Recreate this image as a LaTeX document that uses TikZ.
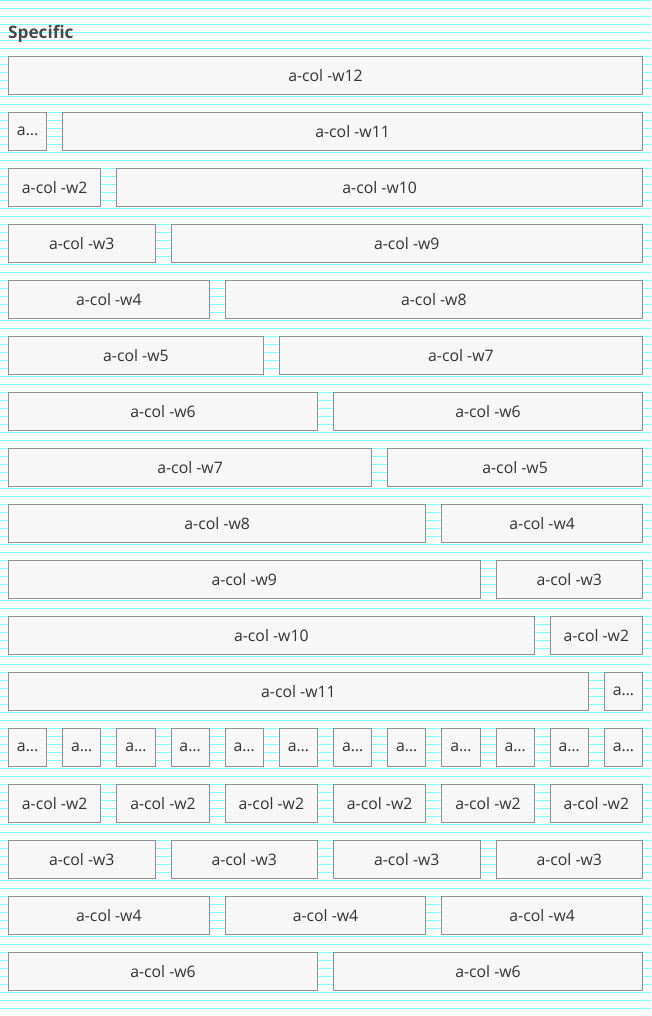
\documentclass[tikz,border=0pt]{standalone}
\usepackage{fontspec}
\setmainfont{Open Sans}
\definecolor{stripe}{HTML}{80FFFF}
\definecolor{cellfill}{HTML}{F7F7F7}
\definecolor{cellline}{HTML}{8F8F8F}
\definecolor{celltext}{HTML}{333333}
\tikzset{
  cell/.style={draw=cellline, line width=1pt, fill=cellfill, text=celltext,
    rectangle, anchor=north west, inner sep=0pt, outer sep=0pt,
    minimum height=38pt, font=\fontsize{15.8}{19}\selectfont},
}
% 12-column grid: left margin 8, width 634, gutter 16
\pgfmathsetmacro{\colw}{(634-11*16)/12}
\begin{document}
\begin{tikzpicture}[x=1pt,y=-1pt]
  \useasboundingbox (0,0) rectangle (651,1016);
  % baseline stripes
  \foreach \k in {0,...,127}{
    \draw[stripe, line width=1pt] (0,8*\k+0.5) -- (651,8*\k+0.5);
  }
  \node[anchor=base west, inner sep=0pt, text=celltext!90,
        font=\bfseries\fontsize{17.2}{21}\selectfont] (title) at (8,39) {Specific};
  % rows: list of spans per row
  \foreach \spans [count=\r from 0] in {
      {12},{1,11},{2,10},{3,9},{4,8},{5,7},{6,6},{7,5},{8,4},{9,3},{10,2},{11,1},
      {1,1,1,1,1,1,1,1,1,1,1,1},{2,2,2,2,2,2},{3,3,3,3},{4,4,4},{6,6}}{
    \foreach \s [count=\c, remember=\nextstart as \colstart (initially 0)] in \spans {
      \pgfmathsetmacro{\xx}{8.5+\colstart*(\colw+16)}
      \pgfmathsetmacro{\ww}{\s*\colw+(\s-1)*16}
      \pgfmathtruncatemacro{\nextstart}{\colstart+\s}
      \ifnum\s=1
        \node[cell, minimum width=\ww pt] (r\r c\c) at (\xx,56.5+56*\r) {a…};
      \else
        \node[cell, minimum width=\ww pt] (r\r c\c) at (\xx,56.5+56*\r) {a-col -w\s};
      \fi
    }
  }
\end{tikzpicture}
\end{document}
